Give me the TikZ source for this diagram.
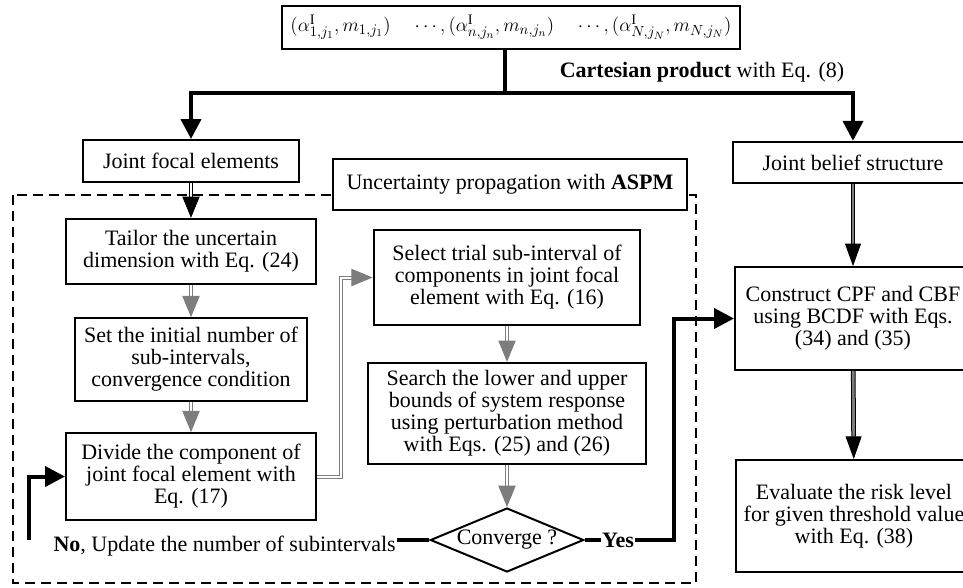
\documentclass[tikz,border=0pt]{standalone}
\usepackage{fontspec}
\setmainfont{Liberation Serif}
\usetikzlibrary{arrows.meta,shapes.geometric,positioning}
\definecolor{flowgray}{RGB}{125,125,125}
\newcommand{\boxfont}{\fontsize{16.5}{16.5}\selectfont}
\tikzset{
  blk/.style={draw, line width=1.5pt, fill=white, align=center, inner sep=1pt, font=\boxfont},
  txt/.style={align=center, inner sep=1pt, font=\boxfont},
  cond/.style={draw, diamond, aspect=2.4, line width=1.5pt, inner sep=0pt, minimum width=115pt, minimum height=48pt, font=\boxfont},
  dashframe/.style={line width=1.1pt, dash pattern=on 7.5pt off 4.5pt},
  thk/.style={line width=3pt},
  thkarrow/.style={line width=3pt, -{Triangle[length=15pt,width=15pt]}},
  dblblack/.style={draw=black, double=white, line width=0.75pt, double distance=1.5pt, -{Triangle[length=16pt,width=13pt]}},
  dblgray/.style={draw=flowgray, double=white, line width=0.75pt, double distance=1.5pt, -{Triangle[length=16pt,width=13pt]}},
  dblright/.style={draw=black, double=flowgray, line width=0.75pt, double distance=2pt, -{Triangle[length=17pt,width=12pt]}}
}

\begin{document}
\begin{tikzpicture}[x=0.75pt, y=-0.75pt]
\useasboundingbox (0,0) rectangle (963,587);
\draw[dashframe] (13,195) rectangle (696,583);

\node[blk, font=\fontsize{15.5}{15.5}\selectfont, minimum width=343.5pt, minimum height=32pt] (Top) at (511,27.5) {$\Bigl(\alpha^{\mathrm{I}}_{1,j_1},m_{1,j_1}\Bigr)\quad\cdots,\Bigl(\alpha^{\mathrm{I}}_{n,j_n},m_{n,j_n}\Bigr)\quad\cdots,\Bigl(\alpha^{\mathrm{I}}_{N,j_N},m_{N,j_N}\Bigr)$};
\node[txt] (Cart) at (702,72) {\textbf{Cartesian product} with Eq. (8)};
\coordinate (fork) at (505,93);
\node[blk, minimum width=162pt, minimum height=31.5pt] (JFE) at (191,161) {Joint focal elements};
\node[blk, minimum width=180pt, minimum height=31pt] (JBS) at (853,162.5) {Joint belief structure};
\node[blk, minimum width=265.5pt, minimum height=38pt] (ASPM) at (510,184.5) {Uncertainty propagation with \textbf{ASPM}};

% left column
\node[blk, minimum width=187pt, minimum height=49pt] (Tailor) at (191,251.5) {Tailor the uncertain\\ dimension with Eq. (24)};
\node[blk, minimum width=174pt, minimum height=62pt] (SetN) at (191,359.5) {Set the initial number of\\ sub-intervals,\\ convergence condition};
\node[blk, minimum width=187.5pt, minimum height=65pt] (Divide) at (191,476.5) {Divide the component of\\ joint focal element with\\ Eq. (17)};

% middle column
\node[blk, minimum width=200pt, minimum height=71pt] (Select) at (507,277.5) {Select trial sub-interval of\\ components in joint focal\\ element with Eq. (16)};
\node[blk, minimum width=209pt, minimum height=76pt] (Search) at (507,413.5) {Search the lower and upper\\ bounds of system response\\ using perturbation method\\ with Eqs. (25) and (26)};
\node[cond] (Conv) at (507,540) {Converge ?};
\node[txt, anchor=west] (No) at (52,546) {\textbf{No}, Update the number of subintervals};
\coordinate (back) at (29,540);
\node[txt] (Yes) at (618,540) {\textbf{Yes}};
\coordinate (turn) at (674,540);

% right column
\node[blk, minimum width=177pt, minimum height=77pt] (CPF) at (853,318.5) {Construct CPF and CBF\\ using BCDF with Eqs.\\ (34) and (35)};
\node[blk, minimum width=177pt, minimum height=84pt] (Risk) at (854,516) {Evaluate the risk level\\ for given threshold value\\ with Eq. (38)};

\draw[thk] (Top.south -| fork) -- (fork);
\draw[thkarrow] (fork) -| (JFE.north);
\draw[thkarrow] (fork) -| (JBS.north);
\draw[dblblack] (JFE) -- (Tailor);
\draw[dblgray] (Tailor) -- (SetN);
\draw[dblgray] (SetN) -- (Divide);
\draw[dblgray] (Divide.east) -- ++(24,0) |- (Select.west);
\draw[dblgray] (Select) -- (Search);
\draw[dblgray] (Search) -- (Conv);
\draw[thk] (Conv.west) -- (Conv.west -| No.east);
\draw[thkarrow] (back) |- (Divide.west);
\draw[thk] (Conv.east) -- (Yes.west);
\draw[thkarrow] (Yes.east) -- (turn) |- (CPF.west);
\draw[dblright] (JBS) -- (CPF);
\draw[dblright] (CPF) -- (Risk);
\end{tikzpicture}
\end{document}
